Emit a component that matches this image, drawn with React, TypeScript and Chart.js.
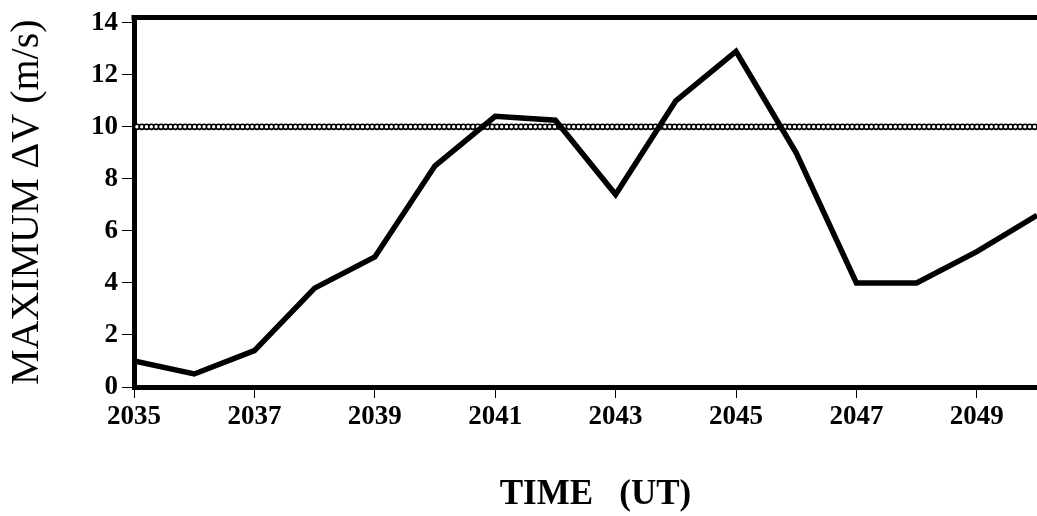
import React, { useEffect, useRef } from "react";
import { Chart, registerables } from "chart.js";

Chart.register(...registerables);

const years = [2035, 2036, 2037, 2038, 2039, 2040, 2041, 2042, 2043, 2044, 2045, 2046, 2047, 2048, 2049, 2050];
const maxDeltaV = [1.0, 0.5, 1.4, 3.8, 5.0, 8.5, 10.4, 10.25, 7.4, 11.0, 12.9, 9.0, 4.0, 4.0, 5.2, 6.6];
const xTickValues = [2035, 2037, 2039, 2041, 2043, 2045, 2047, 2049];
const yTickValues = [0, 2, 4, 6, 8, 10, 12, 14];
const thresholdValue = 10;
const xTitle = "TIME   (UT)";
const yTitle = "MAXIMUM ΔV (m/s)";

const FONT = "'Liberation Serif', 'Times New Roman', serif";

const framePlugin = {
  id: "frameAndThreshold",
  beforeDatasetsDraw(chart: any) {
    const { ctx, chartArea, scales } = chart;
    const y = scales.y.getPixelForValue(thresholdValue);
    ctx.save();
    ctx.strokeStyle = "#000";
    ctx.fillStyle = "#fff";
    ctx.lineWidth = 1.6;
    const step = 4.8;
    for (let x = chartArea.left + 3; x < chartArea.right + 3; x += step) {
      ctx.beginPath();
      ctx.arc(x, y, 2.6, 0, Math.PI * 2);
      ctx.fill();
      ctx.stroke();
    }
    ctx.restore();
  },
  afterDraw(chart: any) {
    const { ctx, chartArea, height } = chart;
    ctx.save();
    ctx.strokeStyle = "#000";
    ctx.lineWidth = 5;
    ctx.beginPath();
    ctx.moveTo(chartArea.left - 2.5, chartArea.top);
    ctx.lineTo(chartArea.right + 5, chartArea.top);
    ctx.stroke();
    ctx.fillStyle = "#000";
    ctx.font = `bold 35px ${FONT}`;
    ctx.textAlign = "center";
    ctx.textBaseline = "middle";
    ctx.fillText(xTitle, (chartArea.left + chartArea.right) / 2 + 10, height - 21);
    ctx.restore();
  },
};

export default function App() {
  const canvasRef = useRef<HTMLCanvasElement | null>(null);

  useEffect(() => {
    if (!canvasRef.current) return;
    const chart = new Chart(canvasRef.current, {
      type: "line",
      data: {
        datasets: [
          {
            label: "Maximum ΔV",
            data: years.map((yr, i) => ({ x: yr, y: maxDeltaV[i] })),
            borderColor: "#000",
            borderWidth: 5.5,
            pointRadius: 0,
            tension: 0,
            fill: false,
            borderJoinStyle: "miter",
          },
        ],
      },
      options: {
        animation: false,
        responsive: false,
        layout: { padding: { top: 15, left: 0, right: 0, bottom: 0 } },
        plugins: { legend: { display: false }, tooltip: { enabled: false } },
        scales: {
          x: {
            type: "linear",
            min: 2035,
            max: 2050,
            afterBuildTicks: (scale: any) => {
              scale.ticks = xTickValues.map((v) => ({ value: v }));
            },
            afterFit: (scale: any) => {
              scale.height = 129;
            },
            grid: { display: true, drawOnChartArea: false, drawTicks: true, tickLength: 11, color: "#000", lineWidth: 1 },
            border: { display: true, color: "#000", width: 5 },
            ticks: {
              color: "#000",
              font: { family: FONT, size: 27, weight: "bold" },
              padding: 3,
              autoSkip: false,
              maxRotation: 0,
              callback: (v: any) => String(v),
            },
          },
          y: {
            type: "linear",
            min: 0,
            max: 14.2,
            afterBuildTicks: (scale: any) => {
              scale.ticks = yTickValues.map((v) => ({ value: v }));
            },
            afterFit: (scale: any) => {
              scale.width = 134;
            },
            grid: { display: true, drawOnChartArea: false, drawTicks: true, tickLength: 12, color: "#000", lineWidth: 1 },
            border: { display: true, color: "#000", width: 5 },
            ticks: {
              color: "#000",
              font: { family: FONT, size: 27, weight: "bold", lineHeight: 1 },
              padding: 4,
              callback: (v: any) => String(v),
            },
            title: {
              display: true,
              text: yTitle,
              color: "#000",
              font: { family: FONT, size: 40, weight: "normal", lineHeight: 1 },
              padding: { top: 7, bottom: 0 },
            },
          },
        },
      },
      plugins: [framePlugin],
    } as any);
    return () => chart.destroy();
  }, []);

  return (
    <div style={{ position: "absolute", left: 0, top: 0, width: 1037, height: 516, background: "#fff" }}>
      <canvas ref={canvasRef} width={1037} height={516} />
    </div>
  );
}
